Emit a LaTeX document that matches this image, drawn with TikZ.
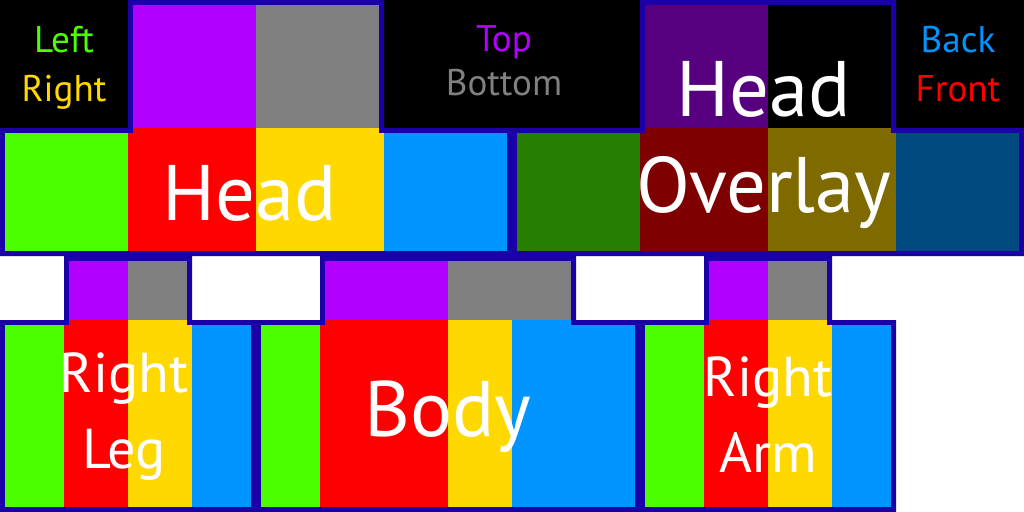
\documentclass[tikz,border=0pt]{standalone}
\usepackage{fontspec}
\setmainfont{PT Sans}
\usetikzlibrary{positioning}

\definecolor{sideGreen}{HTML}{4CFF00}
\definecolor{sideRed}{HTML}{FF0000}
\definecolor{sideYellow}{HTML}{FFD800}
\definecolor{sideBlue}{HTML}{0094FF}
\definecolor{topPurple}{HTML}{B200FF}
\definecolor{bottomGray}{HTML}{808080}
\definecolor{ovGreen}{HTML}{267F00}
\definecolor{ovRed}{HTML}{7F0000}
\definecolor{ovYellow}{HTML}{7F6A00}
\definecolor{ovBlue}{HTML}{004A7F}
\definecolor{ovPurple}{HTML}{57007F}
\definecolor{outlineBlue}{RGB}{26,0,166}

\begin{document}
\begin{tikzpicture}[
    x=0.25cm, y=-0.25cm,
    outline/.style={draw=outlineBlue, line width=0.15625cm, line join=miter},
    key/.style={anchor=base, inner sep=0pt, font=\fontsize{16.5}{18}\selectfont},
    title/.style={anchor=base, inner sep=0pt, text=white, font=\fontsize{35}{40}\selectfont},
    limb/.style={anchor=base, inner sep=0pt, text=white, font=\fontsize{25}{28}\selectfont}
]

% ============ Canvas ============
\fill[white] (0,0) rectangle (64,32);
\useasboundingbox (0,0) rectangle (64,32);

% ============ Black key boxes ============
\fill[black] (0,0) rectangle (8,8);
\fill[black] (24,0) rectangle (40,8);
\fill[black] (56,0) rectangle (64,8);

% ============ Head ============
\fill[topPurple] (8,0) rectangle (16,8);
\fill[bottomGray] (16,0) rectangle (24,8);
\fill[sideGreen] (0,8) rectangle (8,16);
\fill[sideRed] (8,8) rectangle (16,16);
\fill[sideYellow] (16,8) rectangle (24,16);
\fill[sideBlue] (24,8) rectangle (32,16);

% ============ Head overlay ============
\fill[ovPurple] (40,0) rectangle (48,8);
\fill[black] (48,0) rectangle (56,8);
\fill[ovGreen] (32,8) rectangle (40,16);
\fill[ovRed] (40,8) rectangle (48,16);
\fill[ovYellow] (48,8) rectangle (56,16);
\fill[ovBlue] (56,8) rectangle (64,16);

% ============ Right leg ============
\fill[topPurple] (4,16) rectangle (8,20);
\fill[bottomGray] (8,16) rectangle (12,20);
\fill[sideGreen] (0,20) rectangle (4,32);
\fill[sideRed] (4,20) rectangle (8,32);
\fill[sideYellow] (8,20) rectangle (12,32);
\fill[sideBlue] (12,20) rectangle (16,32);

% ============ Body ============
\fill[topPurple] (20,16) rectangle (28,20);
\fill[bottomGray] (28,16) rectangle (36,20);
\fill[sideGreen] (16,20) rectangle (20,32);
\fill[sideRed] (20,20) rectangle (28,32);
\fill[sideYellow] (28,20) rectangle (32,32);
\fill[sideBlue] (32,20) rectangle (40,32);

% ============ Right arm ============
\fill[topPurple] (44,16) rectangle (48,20);
\fill[bottomGray] (48,16) rectangle (52,20);
\fill[sideGreen] (40,20) rectangle (44,32);
\fill[sideRed] (44,20) rectangle (48,32);
\fill[sideYellow] (48,20) rectangle (52,32);
\fill[sideBlue] (52,20) rectangle (56,32);

% ============ Outlines (inside each part) ============
\foreach \part in {
    {(0,8) -- (8,8) -- (8,0) -- (24,0) -- (24,8) -- (32,8) -- (32,16) -- (0,16) -- cycle},
    {(32,8) -- (40,8) -- (40,0) -- (56,0) -- (56,8) -- (64,8) -- (64,16) -- (32,16) -- cycle},
    {(0,20) -- (4,20) -- (4,16) -- (12,16) -- (12,20) -- (16,20) -- (16,32) -- (0,32) -- cycle},
    {(16,20) -- (20,20) -- (20,16) -- (36,16) -- (36,20) -- (40,20) -- (40,32) -- (16,32) -- cycle},
    {(40,20) -- (44,20) -- (44,16) -- (52,16) -- (52,20) -- (56,20) -- (56,32) -- (40,32) -- cycle}}
{
    \begin{scope}
        \clip \part;
        \draw[outline] \part;
    \end{scope}
}

% ============ Key labels ============
\node[key, text=sideGreen] (leftkey) at (4,3.31) {Left};
\node[key, text=sideYellow] (rightkey) at (4,6.35) {Right};
\node[key, text=topPurple] (topkey) at (31.5,3.2) {Top};
\node[key, text=bottomGray] (bottomkey) at (31.5,6.0) {Bottom};
\node[key, text=sideBlue] (backkey) at (59.875,3.31) {Back};
\node[key, text=sideRed] (frontkey) at (59.875,6.35) {Front};

% ============ Part labels ============
\node[title] (headlabel) at (15.6,13.75) {Head};
\node[title] (ovheadlabel) at (47.75,7.31) {Head};
\node[title] (overlaylabel) at (47.75,13.3) {Overlay};
\node[title, font=\fontsize{35}{38}\selectfont] (bodylabel) at (28,27.3) {Body};
\node[limb] (legright) at (7.75,24.56) {Right};
\node[limb] (leglabel) at (7.75,29.3) {Leg};
\node[limb] (armright) at (48,24.8) {Right};
\node[limb] (armlabel) at (48,29.5) {Arm};

\end{tikzpicture}
\end{document}
